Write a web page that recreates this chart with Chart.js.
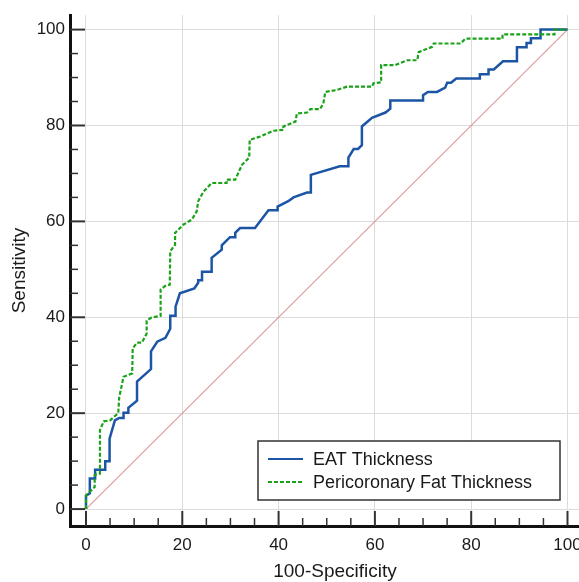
<!DOCTYPE html>
<html>
<head>
<meta charset="utf-8">
<script src="https://cdn.jsdelivr.net/npm/chart.js@4.4.0/dist/chart.umd.min.js"></script>
<style>
  html, body { margin: 0; padding: 0; background: #fff; overflow: hidden; }
  canvas { display: block; }
</style>
</head>
<body>
<canvas id="roc" width="600" height="582"></canvas>
<script>
// ROC curves: [100-specificity, sensitivity]
const seriesNames = ["EAT Thickness", "Pericoronary Fat Thickness"];

const eatPoints = [
  [0,0],[0,2.8],[0.8,3.3],[0.8,6.4],[1.9,6.4],[1.9,8.2],[4,8.2],[4,10],[4.9,10],[4.9,14.7],
  [6,18.5],[6.9,19],[7.8,19],[7.8,20.1],[8.8,20.1],[8.8,21.1],[10.6,22.6],[10.6,26.6],[13.5,29.2],[13.5,32.9],
  [14.8,34.9],[16.5,35.7],[17.5,37.6],[17.5,40.3],[18.5,40.3],[18.6,42.2],[19.5,45],[22.5,46],[23.3,47.2],[23.3,47.7],
  [24.1,47.7],[24.1,49.5],[26,49.5],[26.1,52.4],[28.2,54.1],[28.2,55],[29.9,56.7],[31,56.7],[31,57.6],[32,58.6],
  [35.1,58.6],[37.9,62.3],[39.8,62.3],[39.8,63.1],[42,64.2],[43.1,65],[45.9,66],[46.7,66],[46.7,69.7],[52.7,71.5],
  [54.5,71.5],[54.5,73.3],[55.6,75.1],[56.5,75.1],[57.3,75.9],[57.3,79.8],[59.4,81.6],[62.2,82.7],[63.2,83.5],[63.2,85.2],
  [70,85.2],[70,86.3],[71,87],[72.9,87],[74.6,87.9],[75,88.9],[75.8,88.9],[76.9,89.8],[81.8,89.8],[81.8,90.7],
  [83.6,90.7],[83.6,91.7],[84.7,91.7],[86.6,93.4],[89.5,93.4],[89.5,96.3],[91.5,96.3],[91.5,97.2],[92.4,97.2],[92.4,98.2],
  [94.4,98.2],[94.4,100],[100,100]
];

const pfatPoints = [
  [0,0],[0,2.8],[0.4,3.3],[1.1,3.9],[1.8,4.6],[1.8,7.1],[2.9,7.4],[2.9,16.5],[3.7,18.3],[5,18.5],
  [6.7,20],[6.9,23.3],[7.8,27.6],[9.6,28.3],[9.7,33.5],[10.6,34.7],[11.6,34.7],[12.6,36.6],[12.6,39.3],[13.5,39.9],
  [15.5,40.3],[15.5,45.8],[16.4,46.5],[17.4,46.8],[17.5,53.8],[18.5,55.1],[18.5,57.6],[20.2,59.3],[22,60.4],[23,62.1],
  [23.3,64.2],[24.4,66.2],[26.1,68],[29.2,68],[29.2,68.7],[31,68.7],[32.4,71.8],[33.9,73.3],[34,77],[36.2,77.7],
  [38.9,78.9],[41,79.1],[41,79.8],[43.5,80.8],[43.8,82.5],[45.9,82.7],[46.6,83.4],[48.6,83.4],[49.3,84.6],[49.7,87],
  [52.1,87.4],[54.2,88.1],[59.4,88.1],[59.7,88.8],[61.3,89],[61.3,92.6],[64.2,92.6],[66.7,93.6],[68.8,93.6],[69.1,95.3],
  [71.9,96.4],[72.2,97.1],[77.8,97.1],[78.8,98.1],[86.5,98.1],[86.5,99],[97.3,99],[97.3,100],[100,100]
];

const refLine = [[0,0],[100,100]];
const xTicks = [0, 20, 40, 60, 80, 100];
const yTicks = [0, 20, 40, 60, 80, 100];

const FONT = "'Liberation Sans', Arial, sans-serif";
const toXY = arr => arr.map(([x, y]) => ({ x, y }));

// tick marks point into the plot, minor every 5
const innerTicks = {
  id: 'innerTicks',
  afterDraw(chart) {
    const { ctx, chartArea, scales } = chart;
    ctx.save();
    ctx.strokeStyle = '#333';
    for (let v = 0; v <= 100; v += 5) {
      const major = v % 20 === 0;
      const len = major ? 15 : 8;
      ctx.lineWidth = major ? 2 : 1.5;
      const px = scales.x.getPixelForValue(v);
      ctx.beginPath();
      ctx.moveTo(px, chartArea.bottom);
      ctx.lineTo(px, chartArea.bottom - len);
      ctx.stroke();
      const py = scales.y.getPixelForValue(v);
      ctx.beginPath();
      ctx.moveTo(chartArea.left, py);
      ctx.lineTo(chartArea.left + len, py);
      ctx.stroke();
    }
    ctx.restore();
  }
};

// boxed legend inside the plot, bottom right
const boxLegend = {
  id: 'boxLegend',
  afterDraw(chart) {
    const ctx = chart.ctx;
    const bx = 258, by = 441, bw = 302, bh = 59;
    ctx.save();
    ctx.fillStyle = '#fff';
    ctx.fillRect(bx, by, bw, bh);
    ctx.strokeStyle = '#333';
    ctx.lineWidth = 1.5;
    ctx.strokeRect(bx, by, bw, bh);
    ctx.font = '18px ' + FONT;
    ctx.textBaseline = 'middle';
    ctx.fillStyle = '#1a1a1a';
    const items = chart.data.datasets.filter(d => seriesNames.includes(d.label));
    items.forEach((d, i) => {
      const y = by + 18 + i * 23;
      ctx.strokeStyle = d.borderColor;
      ctx.lineWidth = 2;
      ctx.setLineDash(d.borderDash || []);
      ctx.beginPath();
      ctx.moveTo(bx + 10, y);
      ctx.lineTo(bx + 45, y);
      ctx.stroke();
      ctx.setLineDash([]);
      ctx.fillText(d.label, bx + 55, y + 1);
    });
    ctx.restore();
  }
};

new Chart(document.getElementById('roc'), {
  type: 'scatter',
  data: {
    datasets: [
      {
        label: seriesNames[0],
        data: toXY(eatPoints),
        showLine: true,
        borderColor: '#1c55a5',
        borderWidth: 2.5,
        pointRadius: 0,
        order: 1
      },
      {
        label: seriesNames[1],
        data: toXY(pfatPoints),
        showLine: true,
        borderColor: '#1aa31a',
        borderWidth: 2.2,
        borderDash: [4, 2],
        pointRadius: 0,
        order: 0
      },
      {
        label: 'reference',
        data: toXY(refLine),
        showLine: true,
        borderColor: '#dc9898',
        borderWidth: 1.1,
        pointRadius: 0,
        order: 2
      }
    ]
  },
  options: {
    responsive: false,
    animation: false,
    layout: { padding: { top: 13, right: 0, bottom: 0, left: 0 } },
    plugins: {
      legend: { display: false },
      tooltip: { enabled: false }
    },
    scales: {
      x: {
        type: 'linear',
        min: -3.32,
        max: 106.75,
        afterBuildTicks: s => { s.ticks = xTicks.map(v => ({ value: v })); },
        afterFit: s => { s.height = 56; },
        grid: { color: '#dcdcdc', lineWidth: 1, drawTicks: false },
        border: { color: '#111', width: 3 },
        ticks: { padding: 9, color: '#1a1a1a', font: { family: FONT, size: 17 } },
        title: {
          display: true,
          text: '100-Specificity',
          color: '#1a1a1a',
          font: { family: FONT, size: 19, lineHeight: 1 },
          padding: { top: 0, bottom: 0.5 }
        }
      },
      y: {
        type: 'linear',
        min: -3.53,
        max: 103,
        afterBuildTicks: s => { s.ticks = yTicks.map(v => ({ value: v })); },
        afterFit: s => { s.width = 70; },
        grid: { color: '#dcdcdc', lineWidth: 1, drawTicks: false },
        border: { color: '#111', width: 3 },
        ticks: { padding: 5, color: '#1a1a1a', font: { family: FONT, size: 17 } },
        title: {
          display: true,
          text: 'Sensitivity',
          color: '#1a1a1a',
          font: { family: FONT, size: 19, lineHeight: 1 },
          padding: { top: 10, bottom: 0 }
        }
      }
    }
  },
  plugins: [innerTicks, boxLegend]
});
</script>
</body>
</html>
